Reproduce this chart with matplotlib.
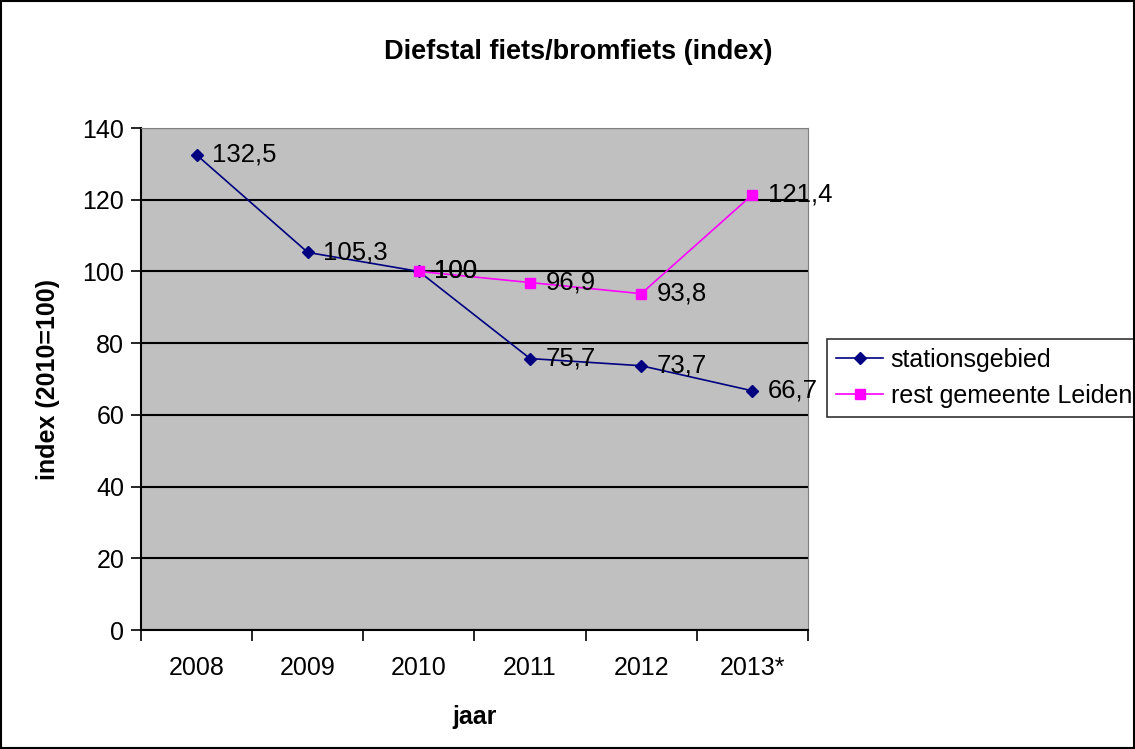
import matplotlib
matplotlib.use('Agg')
import matplotlib.pyplot as plt
from matplotlib.patches import Rectangle

plt.rcParams['font.family'] = ['Liberation Sans', 'DejaVu Sans']

jaren = ['2008', '2009', '2010', '2011', '2012', '2013*']
station = [132.5, 105.3, 100, 75.7, 73.7, 66.7]
rest_jaren = ['2010', '2011', '2012', '2013*']
rest = [100, 96.9, 93.8, 121.4]

fig = plt.figure(figsize=(11.35, 7.49), dpi=100)
ax = fig.add_axes([141 / 1135, 1 - 630 / 749, (808 - 141) / 1135, (630 - 128) / 749])
ax.set_facecolor('#C0C0C0')

xs = list(range(len(jaren)))
xr = [jaren.index(j) for j in rest_jaren]

ax.plot(xs, station, color='#000080', lw=1.2, marker='D', ms=6.5,
        label='stationsgebied', zorder=3)
ax.plot(xr, rest, color='#FF00FF', lw=1.2, marker='s', ms=7.5,
        label='rest gemeente Leiden', zorder=3)


def fmt(v):
    s = ('%g' % v).replace('.', ',')
    return s


for x, v in zip(xs, station):
    ax.annotate(fmt(v), (x, v), xytext=(11, 0), textcoords='offset points',
                ha='left', va='center', fontsize=18.5, zorder=4)
for x, v in zip(xr, rest):
    ax.annotate(fmt(v), (x, v), xytext=(11, 0), textcoords='offset points',
                ha='left', va='center', fontsize=18.5, zorder=4)

ax.set_xlim(-0.5, 5.5)
ax.set_ylim(0, 140)
ax.set_yticks(range(0, 141, 20))
ax.yaxis.grid(True, color='black', lw=1.5)
ax.set_axisbelow(True)
ax.set_xticks([x - 0.5 for x in range(7)])
ax.set_xticklabels([])
ax.set_xticks(xs, minor=True)
ax.set_xticklabels(jaren, minor=True)
ax.tick_params(axis='x', which='minor', length=0, pad=19, labelsize=18)
ax.tick_params(axis='x', which='major', length=8, width=1.2, direction='out')
ax.tick_params(axis='y', length=7, width=1.2, labelsize=18, pad=5)
for side in ['top', 'right']:
    ax.spines[side].set_color('#808080')
for side in ['left', 'bottom']:
    ax.spines[side].set_linewidth(1.5)

ax.set_xlabel('jaar', fontsize=18, fontweight='bold', labelpad=18)
ax.set_ylabel('index (2010=100)', fontsize=18, fontweight='bold', labelpad=16)
fig.text(578 / 1135, 1 - 52 / 749, 'Diefstal fiets/bromfiets (index)',
         ha='center', va='center', fontsize=19.5, fontweight='bold')

leg = ax.legend(loc='center left', bbox_to_anchor=(827 / 1135, 1 - 378 / 749),
                bbox_transform=fig.transFigure, fontsize=18, frameon=True,
                fancybox=False, edgecolor='black', borderpad=0.35,
                handlelength=1.9, handletextpad=0.3, labelspacing=0.5,
                borderaxespad=0)
leg.get_frame().set_linewidth(1.2)

fig.patches.append(Rectangle((0.001, 0.001), 0.998, 0.997, transform=fig.transFigure,
                             fill=False, edgecolor='black', lw=1.5))

fig.savefig('out.png', dpi=100)
